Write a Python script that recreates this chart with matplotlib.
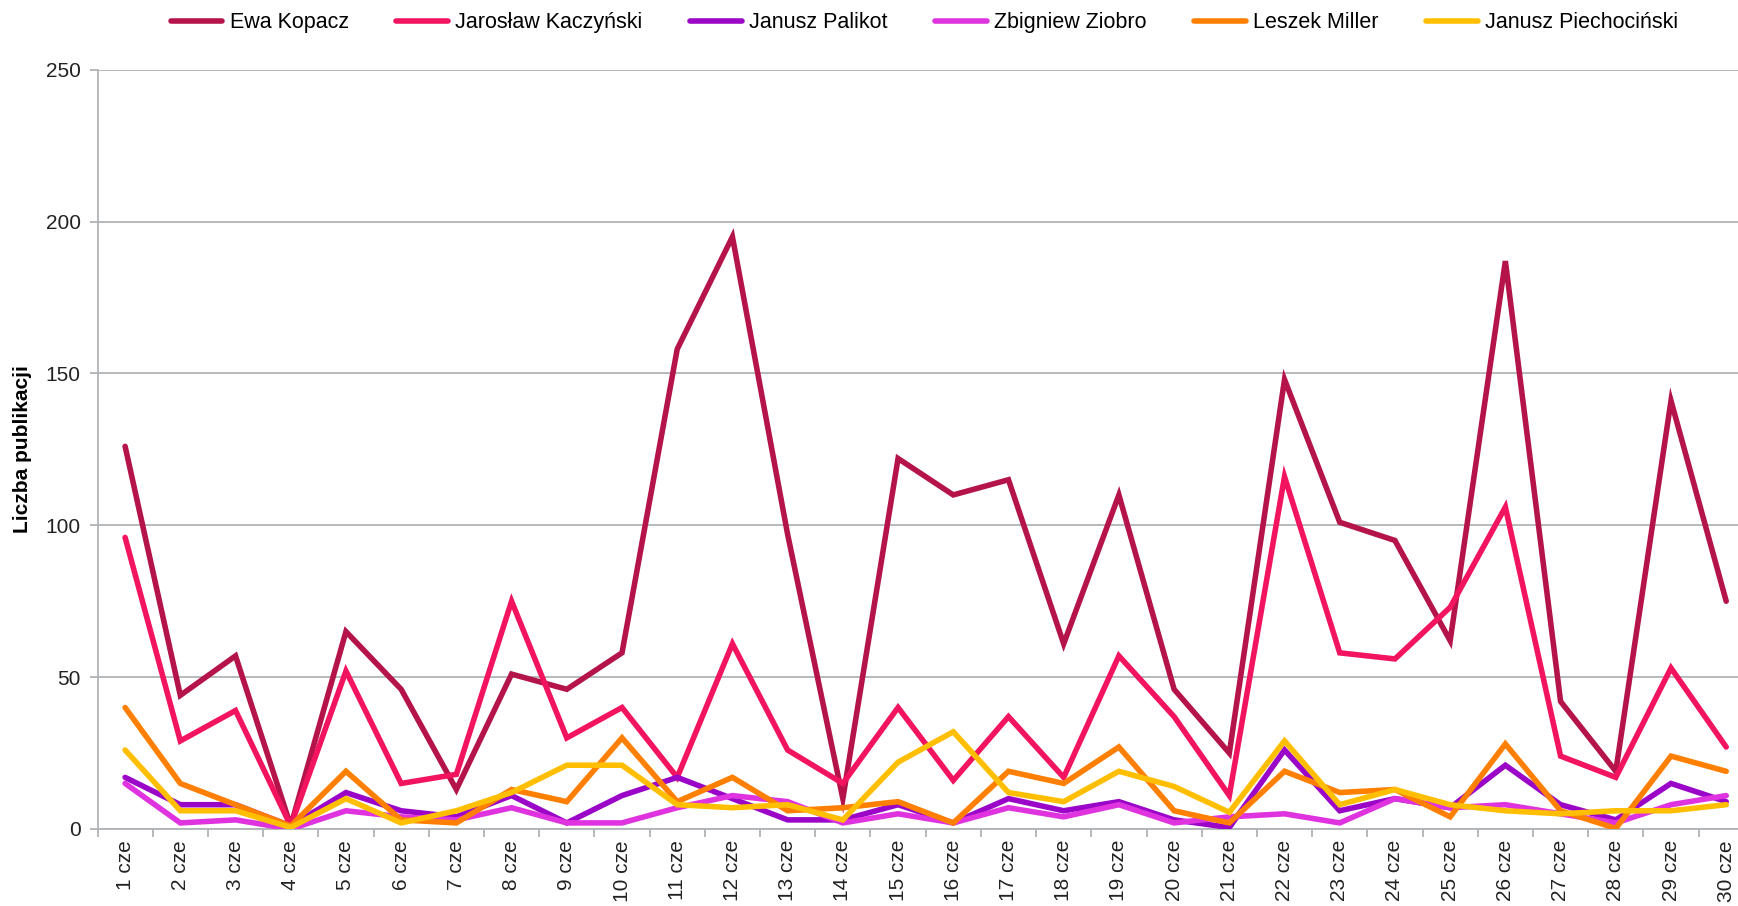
import matplotlib
matplotlib.use("Agg")
import matplotlib.pyplot as plt
import numpy as np

plt.rcParams['font.family'] = ['Liberation Sans', 'DejaVu Sans']

days = [f"{i} cze" for i in range(1, 31)]

kopacz = [126, 44, 57, 1, 65, 46, 13, 51, 46, 58, 158, 195, 97, 10, 122, 110, 115, 61, 110, 46,
          25, 148, 101, 95, 62, 187, 42, 19, 141, 75]
kaczynski = [96, 29, 39, 1, 52, 15, 18, 75, 30, 40, 17, 61, 26, 15, 40, 16, 37, 17, 57, 37,
             11, 116, 58, 56, 73, 106, 24, 17, 53, 27]
palikot = [17, 8, 8, 1, 12, 6, 4, 11, 2, 11, 17, 10, 3, 3, 8, 2, 10, 6, 9, 3,
           0.5, 26, 6, 10, 7, 21, 8, 3, 15, 9]
ziobro = [15, 2, 3, 0, 6, 4, 3, 7, 2, 2, 7, 11, 9, 2, 5, 2, 7, 4, 8, 2,
          4, 5, 2, 10, 7, 8, 5, 2, 8, 11]
miller = [40, 15, 8, 1, 19, 3, 2, 13, 9, 30, 9, 17, 6, 7, 9, 2, 19, 15, 27, 6,
          2, 19, 12, 13, 4, 28, 6, 0.2, 24, 19]
piechocinski = [26, 6, 6, 0.5, 10, 2, 6, 12, 21, 21, 8, 7, 8, 3, 22, 32, 12, 9, 19, 14,
                5.5, 29, 8, 13, 8, 6, 5, 6, 6, 8]

series = [
    ("Ewa Kopacz", kopacz, "#B5144A"),
    ("Jarosław Kaczyński", kaczynski, "#F2145E"),
    ("Janusz Palikot", palikot, "#9A05C8"),
    ("Zbigniew Ziobro", ziobro, "#E033E0"),
    ("Leszek Miller", miller, "#FF7F00"),
    ("Janusz Piechociński", piechocinski, "#FFBF00"),
]

fig = plt.figure(figsize=(17.38, 9.06), dpi=100)
ax = fig.add_axes([0.0561, 0.085, 0.953, 0.838])

x = np.arange(len(days)) + 0.5
handles = []
for name, vals, col in series:
    h, = ax.plot(x, vals, color=col, lw=4.0, label=name, solid_joinstyle='miter',
                 solid_capstyle='round', zorder=3)
    handles.append(h)

ax.set_xlim(0, 30)
ax.set_ylim(0, 250)
ax.set_yticks([0, 50, 100, 150, 200, 250])
ax.yaxis.grid(True, color="#B0B4B8", lw=1.3, zorder=0)
ax.set_axisbelow(True)

ax.set_xticks(np.arange(0, 31), labels=[])
ax.set_xticks(x, labels=days, minor=True, rotation=90)
ax.tick_params(axis='x', which='major', length=6, color="#B0B4B8", width=1.3, direction='out')
ax.tick_params(axis='x', which='minor', length=0, labelsize=15, labelcolor="#222222", pad=8)
ax.tick_params(axis='y', length=6, color="#B0B4B8", width=1.3, labelsize=15, labelcolor="#222222", pad=6)

for s in ['top', 'right']:
    ax.spines[s].set_visible(False)
for s in ['left', 'bottom']:
    ax.spines[s].set_color("#B0B4B8")
    ax.spines[s].set_linewidth(1.3)

ax.set_ylabel("Liczba publikacji", fontsize=15, fontweight='bold', labelpad=10)

fig.legend(handles=handles, loc='center', bbox_to_anchor=(0.532, 0.975), ncol=6, frameon=False,
           fontsize=15.5, handlelength=2.4, handletextpad=0.35, columnspacing=2.2)

fig.savefig("out.png", dpi=100)
